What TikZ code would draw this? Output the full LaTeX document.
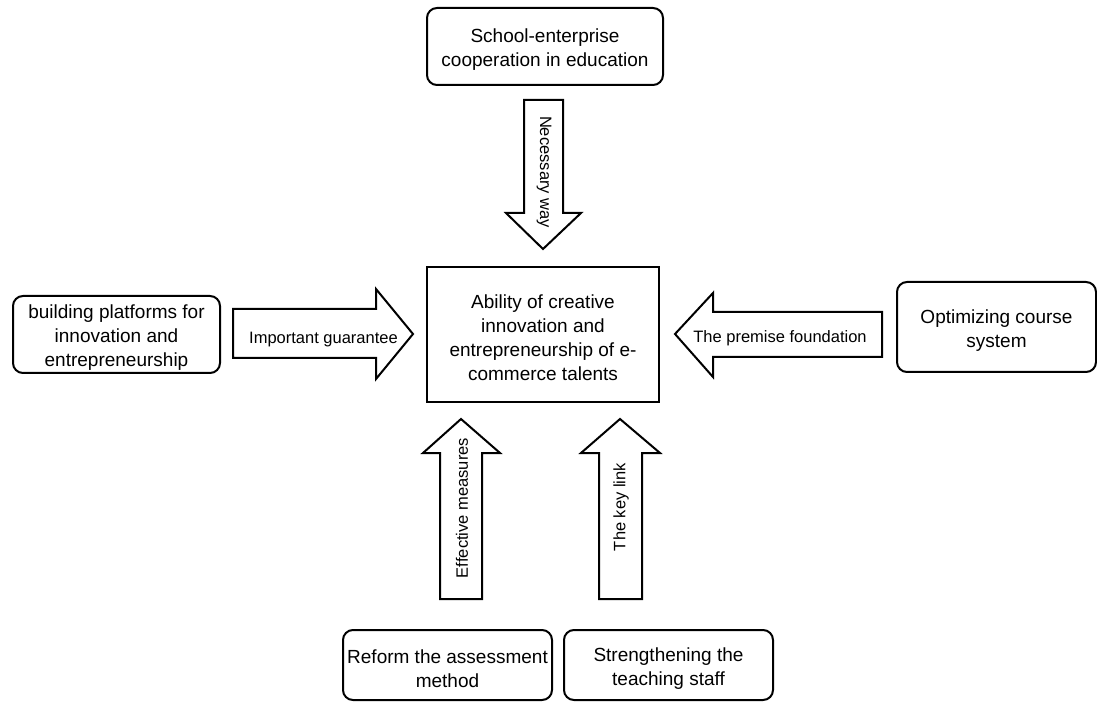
\documentclass[tikz,border=0pt]{standalone}
\usepackage{fontspec}
\setmainfont{Liberation Sans}
\begin{document}
\begin{tikzpicture}[x=1pt,y=1pt,
  box/.style={draw=black,line width=2pt,fill=white,rounded corners=10pt,inner sep=0pt},
  mainbox/.style={box,rounded corners=0pt},
  boxtext/.style={align=center,font=\fontsize{19}{24}\selectfont,inner sep=0pt},
  blockarrow/.style={draw=black,line width=2pt,fill=white,line join=miter},
  lbl/.style={font=\fontsize{16.5}{19}\selectfont,inner sep=0pt}]
\useasboundingbox (0,0) rectangle (1097,702);
% boxes
\node[mainbox,minimum width=232,minimum height=135] (c) at (543,367.5) {};
\node[box,minimum width=236,minimum height=77] (top) at (545,655.5) {};
\node[box,minimum width=207,minimum height=77] (left) at (116.5,367.5) {};
\node[box,minimum width=199,minimum height=90] (right) at (996.5,375) {};
\node[box,minimum width=209,minimum height=70] (bl) at (447.5,37) {};
\node[box,minimum width=209,minimum height=70] (br) at (668.5,37) {};
% box texts
\node[boxtext] (ct) at ([yshift=-3pt]c.center)
  {Ability of creative\\innovation and\\entrepreneurship of e-\\commerce talents};
\node[boxtext] (topt) at ([yshift=-3.5pt]top.center)
  {School-enterprise\\cooperation in education};
\node[boxtext] (leftt) at ([yshift=-3.5pt]left.center)
  {building platforms for\\innovation and\\entrepreneurship};
\node[boxtext] (rightt) at ([yshift=-3.5pt]right.center)
  {Optimizing course\\system};
\node[boxtext] (blt) at ([yshift=-3.5pt]bl.center)
  {Reform the assessment\\method};
\node[boxtext] (brt) at ([yshift=-3.5pt]br.center)
  {Strengthening the\\teaching staff};
% block arrows
\draw[blockarrow] (524,602) -- (563,602) -- (563,489) -- (581,489) -- (543,453)
  -- (506,489) -- (524,489) -- cycle;
\draw[blockarrow] (233,393) -- (376,393) -- (376,413) -- (413,368) -- (376,323)
  -- (376,344) -- (233,344) -- cycle;
\draw[blockarrow] (882,390) -- (713,390) -- (713,409) -- (675,368) -- (713,325)
  -- (713,345) -- (882,345) -- cycle;
\draw[blockarrow] (440,103) -- (440,249) -- (423,249) -- (461,283) -- (500,249)
  -- (482,249) -- (482,103) -- cycle;
\draw[blockarrow] (599,103) -- (599,249) -- (581,249) -- (620,283) -- (660,249)
  -- (642,249) -- (642,103) -- cycle;
% labels
\node[lbl,rotate=-90] (l1) at (544,530) {Necessary way};
\node[lbl] (l2) at (323.5,362) {Important guarantee};
\node[lbl] (l3) at (780,364) {The premise foundation};
\node[lbl,rotate=90] (l4) at (462,194) {Effective measures};
\node[lbl,rotate=90] (l5) at (621,195) {The key link};
\end{tikzpicture}
\end{document}
